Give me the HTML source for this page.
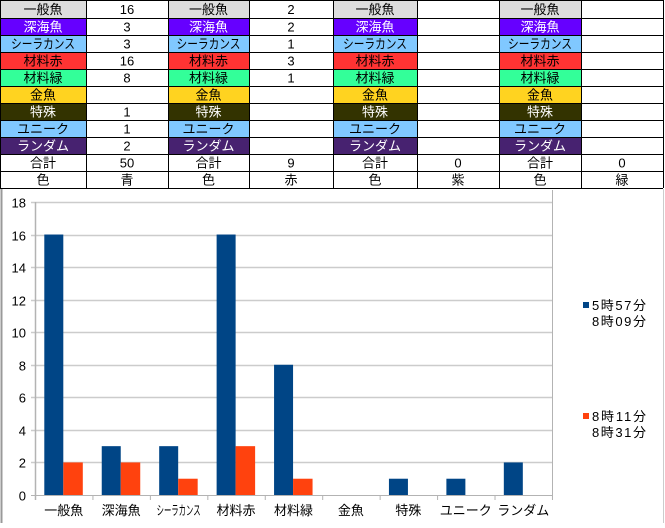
<!DOCTYPE html>
<html><head><meta charset="utf-8"><style>
body{margin:0;background:#fff;}
svg text{font-family:"Liberation Sans","Noto Sans CJK JP",sans-serif;font-size:13px;}
</style></head><body>
<svg width="665" height="523" xmlns="http://www.w3.org/2000/svg">
<rect width="665" height="523" fill="#fff"/>
<g id="tbl"></g>
<g id="chart"></g>
</svg>
<script>
const ns="http://www.w3.org/2000/svg";
function el(p,t,a,txt){const e=document.createElementNS(ns,t);for(const k in a){if(a[k]!==null&&a[k]!==undefined)e.setAttribute(k,a[k]);}if(txt!==undefined)e.textContent=txt;p.appendChild(e);return e;}
const tbl=document.getElementById('tbl');
const cols=[0,86,168,249,333,417,499,581,663];
const rows=[0,18,35,52,69,86,103,120,137,154,171,188];
const names=["一般魚","深海魚","シーラカンス","材料赤","材料緑","金魚","特殊","ユニーク","ランダム","合計","色"];
const bg=["#dddddd","#6600ff","#80c8ff","#ff3333","#33ff99","#ffd320","#333300","#80c8ff","#472270","#fff","#fff"];
const fg=["#000","#fff","#000","#000","#000","#000","#fff","#000","#fff","#000","#000"];
const vals=[["16","3","3","16","8","","1","1","2","50","青"],["2","2","1","3","1","","","","","9","赤"],["","","","","","","","","","0","紫"],["","","","","","","","","","0","緑"]];
for(let g=0;g<4;g++){
 const x0=cols[2*g],x1=cols[2*g+1],x2=cols[2*g+2];
 for(let r=0;r<11;r++){
  const y0=rows[r],y1=rows[r+1];
  el(tbl,'rect',{x:x0,y:y0,width:x1-x0,height:y1-y0,fill:bg[r]});
  const ty=(y0+y1)/2+5;
  const a={x:(x0+x1)/2,y:ty,'text-anchor':'middle',fill:fg[r]};
  if(r==2){a.textLength=64;a.lengthAdjust='spacingAndGlyphs';}
  el(tbl,'text',a,names[r]);
  el(tbl,'text',{x:(x1+x2)/2,y:ty,'text-anchor':'middle',fill:'#000'},vals[g][r]);
 }
}
for(const y of rows) el(tbl,'line',{x1:0,x2:663,y1:y+0.5,y2:y+0.5,stroke:'#000'});
for(const x of cols) el(tbl,'line',{x1:x+0.5,x2:x+0.5,y1:0,y2:188,stroke:'#000'});
const c=document.getElementById('chart');
el(c,'line',{x1:1.5,x2:1.5,y1:189,y2:523,stroke:'#999',"stroke-width":2});
el(c,'line',{x1:663.5,x2:663.5,y1:189,y2:523,stroke:'#ccc'});
const y0=495,u=16.28,L=35,R=552,cw=57.44;
for(let v=0;v<=18;v+=2){const y=Math.round(y0-v*u)+0.5;
 el(c,'line',{x1:L-4,x2:R,y1:y,y2:y,stroke:v==0?'#b3b3b3':'#cccccc',"stroke-width":v==0?1:1.5});
 el(c,'text',{x:26,y:y+5,'text-anchor':'end'},String(v));}
el(c,'line',{x1:L+0.5,x2:L+0.5,y1:202,y2:500,stroke:'#b3b3b3',"stroke-width":1.5});
el(c,'line',{x1:R+0.5,x2:R+0.5,y1:190,y2:500,stroke:'#b3b3b3'});
const cats=["一般魚","深海魚","シーラカンス","材料赤","材料緑","金魚","特殊","ユニーク","ランダム"];
const b=[16,3,3,16,8,0,1,1,2],o=[2,2,1,3,1,0,0,0,0];
for(let i=0;i<9;i++){const x=L+cw*i;
 el(c,'line',{x1:x+cw+0.5,x2:x+cw+0.5,y1:495,y2:500,stroke:'#b3b3b3'});
 if(b[i])el(c,'rect',{x:x+9.3,y:y0-b[i]*u,width:19,height:b[i]*u,fill:'#004586'});
 if(o[i])el(c,'rect',{x:x+28.3,y:y0-o[i]*u,width:19.5,height:o[i]*u,fill:'#ff420e'});
 const a={x:x+cw/2,y:515,'text-anchor':'middle'};
 if(i==2){a.textLength=44;a.lengthAdjust='spacingAndGlyphs';}
 el(c,'text',a,cats[i]);
}
el(c,'rect',{x:583,y:302,width:6,height:6,fill:'#004586'});
el(c,'text',{x:592,y:310,textLength:54,lengthAdjust:'spacing'},"5時57分");
el(c,'text',{x:592,y:326,textLength:54,lengthAdjust:'spacing'},"8時09分");
el(c,'rect',{x:583,y:413,width:6,height:6,fill:'#ff420e'});
el(c,'text',{x:592,y:421,textLength:54,lengthAdjust:'spacing'},"8時11分");
el(c,'text',{x:592,y:437,textLength:54,lengthAdjust:'spacing'},"8時31分");
</script>
</body></html>
